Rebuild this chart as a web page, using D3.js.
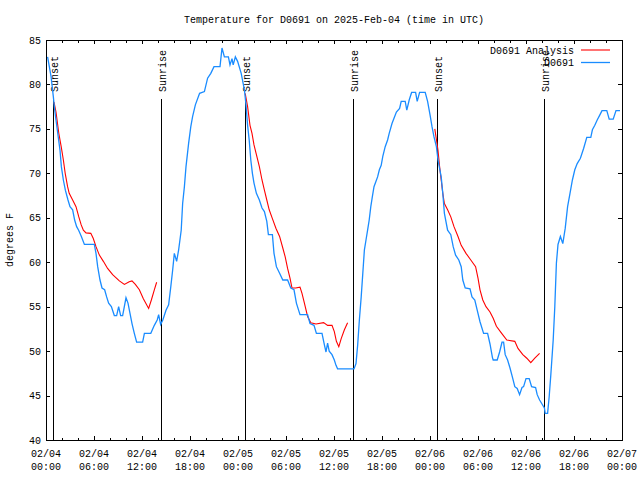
<!DOCTYPE html>
<html>
<head>
<meta charset="utf-8">
<script src="https://cdn.jsdelivr.net/npm/d3@7"></script>
<style>
  html, body { margin: 0; padding: 0; background: #fff; }
  svg { display: block; }
  text { font-family: "Liberation Mono", "DejaVu Sans Mono", monospace; font-size: 10px; fill: #000; }
</style>
</head>
<body>
<svg id="chart" width="640" height="480"></svg>
<script>
// ---- data (hours since 2025-02-04 00:00 UTC, degrees F) ----
const titleText = "Temperature for D0691 on 2025-Feb-04 (time in UTC)";
const yLabelText = "degrees F";
const seriesNames = ["D0691 Analysis", "D0691"];
const yTicks = [40, 45, 50, 55, 60, 65, 70, 75, 80, 85];
const xTickHours = [0, 6, 12, 18, 24, 30, 36, 42, 48, 54, 60, 66, 72];

const obsHours = [0.2,0.63,0.92,1.04,1.25,1.58,1.75,1.92,2.17,2.42,2.75,3.0,3.33,3.58,3.83,4.08,4.42,4.8,6.04,6.25,6.46,6.75,7.0,7.33,7.58,7.83,8.17,8.54,8.83,9.08,9.33,9.58,10.0,10.25,10.5,10.75,11.04,11.33,12.08,12.3,13.1,13.54,13.9,14.08,14.33,14.6,15.0,15.33,15.6,15.83,16.04,16.33,16.58,16.9,17.08,17.3,17.5,17.83,18.1,18.33,18.67,19.2,19.8,20.2,20.6,21.0,21.75,22.0,22.3,22.8,23.0,23.25,23.4,23.67,23.95,24.4,24.8,25.0,25.2,25.4,25.6,25.8,26.0,26.3,26.67,27.0,27.3,27.6,27.8,28.3,28.5,28.8,29.2,29.6,30.2,30.6,31.0,31.3,31.75,32.7,33.0,33.5,33.8,34.5,34.8,35.0,35.2,35.4,35.75,36.04,36.25,36.45,38.5,38.75,38.96,39.17,39.4,39.6,39.8,40.0,40.2,40.4,40.6,40.8,41.0,41.25,41.45,41.67,41.9,42.1,42.4,42.7,42.9,43.25,43.5,43.8,44.2,44.4,44.9,45.1,45.4,45.7,46.2,46.4,46.7,47.4,47.7,48.0,48.25,48.5,48.8,49.0,49.4,49.6,49.8,50.2,50.6,50.9,51.2,51.6,51.9,52.1,52.4,53.0,53.25,53.6,53.9,54.25,54.7,55.2,55.5,55.8,55.9,56.4,56.7,57.0,57.2,57.4,57.7,58.0,58.35,58.6,58.9,59.2,59.5,59.7,60.0,60.4,60.7,61.2,61.4,61.7,62.0,62.3,62.4,62.7,62.9,63.1,63.4,63.6,63.8,64.0,64.3,64.6,64.9,65.2,65.5,65.8,66.1,66.4,66.8,67.2,67.6,68.1,68.3,68.6,68.9,69.25,69.5,70.1,70.4,70.9,71.25,71.75];
const obsTemps = [83.1,80.9,78.6,77.5,76,73.75,72.6,70.75,69.25,68.1,67,66.25,65.9,64.75,64,63.6,62.9,62,62,61,59.5,58,57.1,56.9,56.1,55.4,55,54,54,55,54,54,56,55.4,54.25,53.1,52,51,51,52,52,52.9,53.5,54.1,53,53.5,54.6,55.2,57.25,59.1,61,60.1,61.4,63.6,66.6,68.5,70.75,73.4,75.25,76.4,77.7,79,79.2,80.7,81.25,82,82,84.1,83.1,83.1,82.2,82.9,82.2,83.1,82.6,81.25,79.4,77.7,75.4,73.75,71.5,70,68.9,67.75,67,66.1,65.7,64.6,63.1,63.1,61,59.5,58.75,58,58,57.1,56.9,55.4,54.1,54.1,53.1,52.9,52,52,50.7,49.9,50.9,50,49.6,49,48.4,48,48,48.6,50.7,53.5,56.1,58.75,61.4,62.5,63.6,64.75,66.25,67.4,68.5,69.1,69.6,70.4,70.9,71.9,73,73.75,74.5,75.6,76.2,76.9,77.3,78.1,78.1,77.1,78.25,79.1,79.1,78.1,79.1,79.1,78.1,76.6,75.25,74.1,73,71.5,69.6,67.75,65.5,63.6,63.1,61.75,60.8,60.25,59.5,58,57.1,57,56.1,55.75,54.6,53.3,52,52,50.8,49.3,49,49,49.9,51,51,49.6,49,48.1,46.9,46,45.8,45.1,45.9,46,46.9,46.9,46,45.9,45.1,44.5,44.05,43.6,43,43,44.9,47.3,51.25,55,59.9,62,62.9,62.1,63.8,66.25,67.75,69.25,70.4,71.1,71.7,72.8,74.05,74.05,74.9,75.4,76,76.6,77.05,77.05,76.1,76.1,77.05,77.05];

// analysis series: null marks a gap between forecast runs
const anaHours = [1.0,1.25,1.6,1.9,2.17,2.4,2.7,2.9,3.33,3.75,4.1,4.4,4.67,5.0,5.6,5.9,6.25,6.67,7.17,7.7,8.33,9.17,9.8,10.4,10.75,11.17,11.67,12.17,12.83,13.17,13.54,13.83,
  null,
  24.9,25.2,25.5,25.75,26.0,26.3,26.67,27.0,27.3,27.6,27.9,28.3,28.75,29.2,29.6,29.9,30.2,30.5,30.75,31.2,31.75,32.0,32.3,32.7,33.1,33.75,34.7,35.2,35.75,36.04,36.3,36.6,36.9,37.3,37.7,
  null,
  48.6,48.75,49.0,49.2,49.4,49.6,49.8,50.2,50.6,51.0,51.5,51.9,52.5,53.1,53.7,54.0,54.25,54.6,55.0,55.5,55.9,56.3,56.96,57.6,58.6,59.0,59.6,60.1,60.6,61.1,61.7];
const anaTemps = [78,76.9,74.5,73,71.5,70,68.5,67.75,67,66.25,65.1,64.2,63.6,63.3,63.25,62.7,61.75,60.8,60.1,59.3,58.6,57.9,57.5,57.8,57.9,57.5,56.9,55.9,54.8,55.75,56.9,57.75,
  null,
  79,77.5,75.4,74.5,73.2,72.1,70.75,69.25,68.1,67,65.9,64.9,63.8,62.9,61.6,60.6,59.3,58.2,57.1,57.1,57.2,56.5,55.4,53.9,53.2,53.05,53.2,52.9,52.9,52.2,51.1,50.5,51.4,52.4,53.2,
  null,
  75,74.1,72.6,70.75,69.25,67.75,66.6,65.9,65.1,64,62.9,61.9,61,60.25,59.5,58.2,56.9,55.75,55,54.4,53.7,52.8,52,51.25,51.1,50.3,49.6,49.2,48.7,49.2,49.75];

const eventNames = ["Sunset", "Sunrise", "Sunset", "Sunrise", "Sunset", "Sunrise"];
const eventHours = [0.92, 14.4, 24.9, 38.4, 48.9, 62.3];

// ---- layout ----
const W = 640, H = 480;
const m = { left: 46, right: 18, top: 40, bottom: 40 };
const base = Date.UTC(2025, 1, 4, 0, 0);
const toDate = h => new Date(base + h * 3600000);

const svg = d3.select("#chart");
svg.append("rect").attr("width", W).attr("height", H).attr("fill", "#fff");

const x = d3.scaleUtc().domain([toDate(0), toDate(72)]).range([m.left, W - m.right]);
const y = d3.scaleLinear().domain([40, 85]).range([H - m.bottom, m.top]);

const x0 = m.left, x1 = W - m.right, y0 = m.top, y1 = H - m.bottom;

// ticks
const g = svg.append("g").attr("shape-rendering", "crispEdges");
const minorHours = d3.range(0, 73, 2).filter(h => h % 6 !== 0);
function tickLines(hrs, len) {
  hrs.forEach(h => {
    const xx = Math.round(x(toDate(h))) + 0.5;
    g.append("line").attr("x1", xx).attr("x2", xx).attr("y1", y1).attr("y2", y1 - len).attr("stroke", "#000");
    g.append("line").attr("x1", xx).attr("x2", xx).attr("y1", y0).attr("y2", y0 + len).attr("stroke", "#000");
  });
}
tickLines(xTickHours, 4);
tickLines(minorHours, 2.5);
yTicks.forEach(v => {
  const yy = Math.round(y(v)) + 0.5;
  g.append("line").attr("x1", x0).attr("x2", x0 + 4).attr("y1", yy).attr("y2", yy).attr("stroke", "#000");
  g.append("line").attr("x1", x1).attr("x2", x1 - 4).attr("y1", yy).attr("y2", yy).attr("stroke", "#000");
});

// tick labels
const fDate = d3.utcFormat("%m/%d"), fTime = d3.utcFormat("%H:%M");
xTickHours.forEach(h => {
  const d = toDate(h), xx = x(d);
  svg.append("text").attr("x", xx).attr("y", y1 + 17).attr("text-anchor", "middle").text(fDate(d));
  svg.append("text").attr("x", xx).attr("y", y1 + 30).attr("text-anchor", "middle").text(fTime(d));
});
yTicks.forEach(v => {
  svg.append("text").attr("x", x0 - 5).attr("y", y(v) + 3.5).attr("text-anchor", "end").text(v);
});

// sunrise / sunset markers
eventHours.forEach((h, i) => {
  const xx = Math.round(x(toDate(h))) + 0.5;
  g.append("line").attr("x1", xx).attr("x2", xx).attr("y1", 99).attr("y2", y1).attr("stroke", "#000");
  svg.append("text")
    .attr("transform", `translate(${xx + 4.5},92) rotate(-90)`)
    .attr("text-anchor", "start")
    .text(eventNames[i]);
});

// data lines
const obs = obsHours.map((h, i) => ({ d: toDate(h), v: obsTemps[i] }));
const ana = anaHours.map((h, i) => ({ d: h === null ? null : toDate(h), v: anaTemps[i] }));
const line = d3.line().defined(p => p.d !== null && p.v !== null).x(p => x(p.d)).y(p => y(p.v));

svg.append("path").datum(ana).attr("d", line).attr("fill", "none").attr("stroke", "#ff0000").attr("stroke-width", 1.1);
svg.append("path").datum(obs).attr("d", line).attr("fill", "none").attr("stroke", "#1a8cff").attr("stroke-width", 1.3);

// frame
g.append("rect").attr("x", x0 + 0.5).attr("y", y0 + 0.5).attr("width", x1 - x0).attr("height", y1 - y0)
  .attr("fill", "none").attr("stroke", "#000");

// title and y label
svg.append("text").attr("x", (x0 + x1) / 2).attr("y", 23).attr("text-anchor", "middle").text(titleText);
svg.append("text").attr("transform", `translate(13,${(y0 + y1) / 2}) rotate(-90)`).attr("text-anchor", "middle").text(yLabelText);

// legend
const legColors = ["#ff0000", "#1a8cff"];
seriesNames.forEach((n, i) => {
  const ly = 50 + i * 12.5;
  svg.append("text").attr("x", 574).attr("y", ly + 3.5).attr("text-anchor", "end").text(n);
  svg.append("line").attr("x1", 581).attr("x2", 610).attr("y1", ly).attr("y2", ly)
    .attr("stroke", legColors[i]).attr("stroke-width", i === 0 ? 1.1 : 1.3);
});
</script>
</body>
</html>
